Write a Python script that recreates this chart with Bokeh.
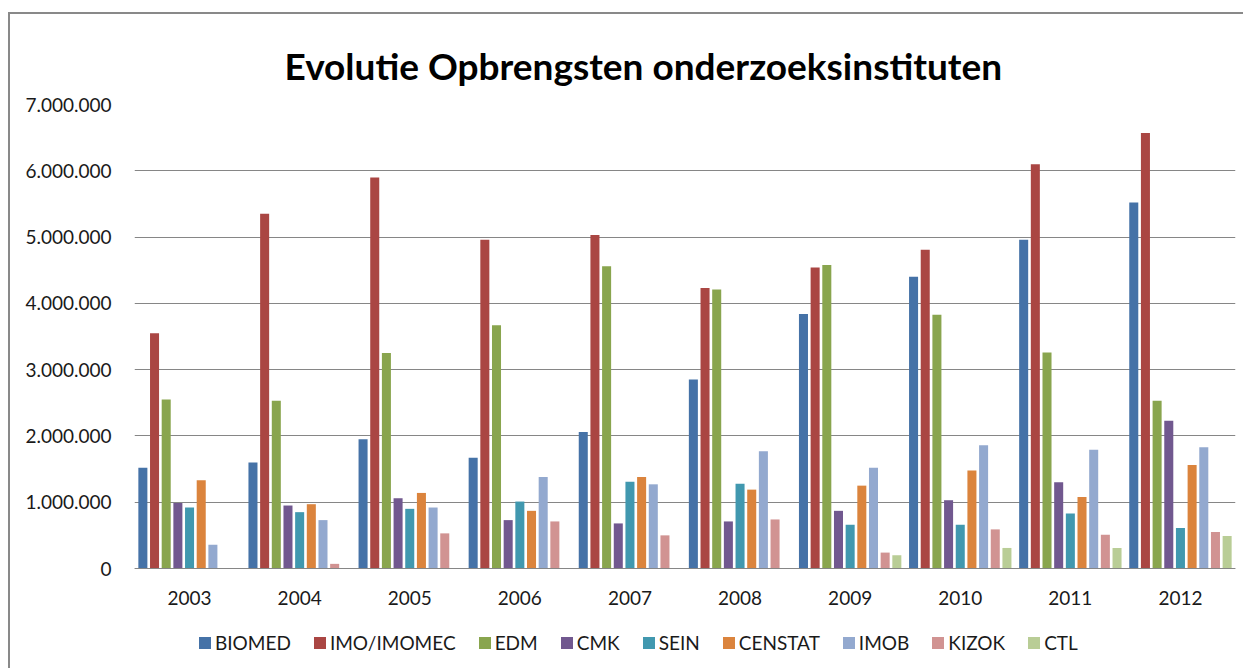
from bokeh.plotting import figure
from bokeh.models import FactorRange, Range1d, FixedTicker, Legend, LegendItem, ColumnDataSource
from bokeh.transform import dodge
from bokeh.embed import file_html
from bokeh.resources import INLINE

years = ["2003", "2004", "2005", "2006", "2007", "2008", "2009", "2010", "2011", "2012"]

series_names = ["BIOMED", "IMO/IMOMEC", "EDM", "CMK", "SEIN", "CENSTAT", "IMOB", "KIZOK", "CTL"]
series_colors = ["#4572A7", "#AA4643", "#89A54E", "#71588F", "#4198AF",
                 "#DB843D", "#93A9CF", "#D19392", "#B9CD96"]

biomed  = [1520000, 1600000, 1950000, 1670000, 2060000, 2850000, 3840000, 4400000, 4960000, 5520000]
imo     = [3550000, 5350000, 5900000, 4960000, 5030000, 4230000, 4540000, 4810000, 6100000, 6570000]
edm     = [2550000, 2530000, 3250000, 3670000, 4560000, 4210000, 4580000, 3830000, 3260000, 2530000]
cmk     = [990000, 950000, 1060000, 730000, 680000, 710000, 870000, 1030000, 1300000, 2230000]
sein    = [920000, 850000, 900000, 1010000, 1310000, 1280000, 660000, 660000, 830000, 610000]
censtat = [1330000, 970000, 1140000, 870000, 1380000, 1190000, 1250000, 1480000, 1080000, 1560000]
imob    = [360000, 730000, 920000, 1380000, 1270000, 1770000, 1520000, 1860000, 1790000, 1830000]
kizok   = [0, 70000, 530000, 710000, 500000, 740000, 240000, 590000, 510000, 550000]
ctl     = [0, 0, 0, 0, 0, 0, 200000, 310000, 310000, 490000]

y_ticks = [0, 1000000, 2000000, 3000000, 4000000, 5000000, 6000000, 7000000]
y_tick_labels = ["0", "1.000.000", "2.000.000", "3.000.000", "4.000.000",
                 "5.000.000", "6.000.000", "7.000.000"]

title_text = "Evolutie Opbrengsten onderzoeksinstituten"

keys = ["biomed", "imo", "edm", "cmk", "sein", "censtat", "imob", "kizok", "ctl"]
source = ColumnDataSource(dict(year=years, biomed=biomed, imo=imo, edm=edm, cmk=cmk,
                               sein=sein, censtat=censtat, imob=imob, kizok=kizok, ctl=ctl))

FONT = "Lato"

# layout: frame spans from the 7.000.000 gridline down to the bottom of the canvas,
# the space below 0 holds the category labels and the legend
Y_MAX = 7000000
PLOT_PX = 464          # pixels between 0 and 7.000.000
BELOW_PX = 102         # pixels of frame below the 0 line
y_min = -Y_MAX * BELOW_PX / PLOT_PX

p = figure(x_range=FactorRange(factors=years, range_padding=0),
           y_range=Range1d(y_min, Y_MAX),
           width=1235, height=656,
           output_backend="svg", toolbar_location=None,
           min_border_left=124, min_border_right=10,
           min_border_top=90, min_border_bottom=0,
           title=title_text)

p.styles = {"border-top": "2px solid #898989", "border-left": "2px solid #898989",
            "margin-left": "8px", "margin-top": "12px"}

p.title.text_font = FONT
p.title.text_font_size = "37px"
p.title.text_font_style = "bold"
p.title.text_color = "#000000"
p.title.align = "left"
p.title.offset = 150
p.title.standoff = 34

step = 0.106
renderers = []
for i, (k, c) in enumerate(zip(keys, series_colors)):
    r = p.vbar(x=dodge("year", (i - 4) * step, range=p.x_range), top=k, bottom=0, width=0.082,
               source=source, fill_color=c, line_color=None)
    renderers.append(r)

p.outline_line_color = None
p.xgrid.grid_line_color = None
p.ygrid.grid_line_color = "#868686"
p.ygrid.grid_line_width = 1

p.yaxis.ticker = FixedTicker(ticks=y_ticks)
p.yaxis.major_label_overrides = {t: l for t, l in zip(y_ticks, y_tick_labels)}
p.yaxis.axis_line_color = None
p.yaxis.major_tick_line_color = None
p.yaxis.minor_tick_line_color = None
p.yaxis.major_label_standoff = 17
p.yaxis.major_label_text_font = FONT
p.yaxis.major_label_text_font_size = "19px"
p.yaxis.major_label_text_color = "#1a1a1a"

p.xaxis.fixed_location = 0
p.xaxis.axis_line_color = "#868686"
p.xaxis.major_tick_line_color = None
p.xaxis.minor_tick_line_color = None
p.xaxis.major_label_standoff = 16
p.xaxis.major_label_text_font = FONT
p.xaxis.major_label_text_font_size = "19px"
p.xaxis.major_label_text_color = "#1a1a1a"

legend = Legend(items=[LegendItem(label=n, renderers=[r]) for n, r in zip(series_names, renderers)],
                orientation="horizontal", location=(63, 16),
                glyph_width=15, glyph_height=15, label_standoff=3, spacing=21,
                label_height=20,
                padding=0, margin=0, border_line_color=None, background_fill_alpha=0,
                label_text_font=FONT, label_text_font_size="19px", label_text_color="#1a1a1a")
p.add_layout(legend, "center")

open("out.html", "w").write(file_html(p, INLINE))
